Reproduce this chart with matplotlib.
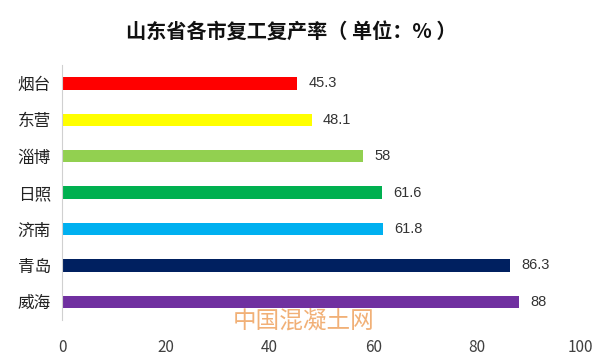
import matplotlib
matplotlib.use('Agg')
import matplotlib.pyplot as plt

plt.rcParams['font.family'] = ['Noto Sans CJK SC', 'DejaVu Sans']

cities = ['烟台', '东营', '淄博', '日照', '济南', '青岛', '威海']
rates = [45.3, 48.1, 58, 61.6, 61.8, 86.3, 88]
rate_labels = ['45.3', '48.1', '58', '61.6', '61.8', '86.3', '88']
colors = ['#FF0000', '#FFFF00', '#92D050', '#00B050', '#00B0F0', '#002060', '#7030A0']

fig = plt.figure(figsize=(6.05, 3.62), dpi=100)
ax = fig.add_axes([0.1025, 0.116, 0.8575, 0.704])

pos = list(range(len(cities)))
ax.barh(pos, rates, height=0.34, color=colors)
for p, v, t in zip(pos, rates, rate_labels):
    ax.text(v + 2.2, p, t, va='center', ha='left', fontsize=10.5, color='#333333',
            family=['Liberation Sans', 'DejaVu Sans'])

ax.set_ylim(len(cities) - 0.5, -0.5)
ax.set_xlim(0, 100)
ax.set_yticks(pos)
ax.set_yticklabels(cities, fontsize=12, color='#222222')
ax.set_xticks([0, 20, 40, 60, 80, 100])
ax.tick_params(axis='both', length=0)
ax.tick_params(axis='x', pad=14, labelsize=11, labelcolor='#404040')
ax.tick_params(axis='y', pad=8)
for s in ['top', 'right', 'bottom']:
    ax.spines[s].set_visible(False)
ax.spines['left'].set_color('#D0D0D0')

fig.text(0.481, 0.915, '山东省各市复工复产率（ 单位：% ）', ha='center', va='center',
         fontsize=14.5, fontweight='bold', color='#111111')
fig.text(0.502, 0.11, '中国混凝土网', ha='center', va='center', fontsize=17,
         color='#F0A868', alpha=0.9)

fig.savefig('out.png', dpi=100)
